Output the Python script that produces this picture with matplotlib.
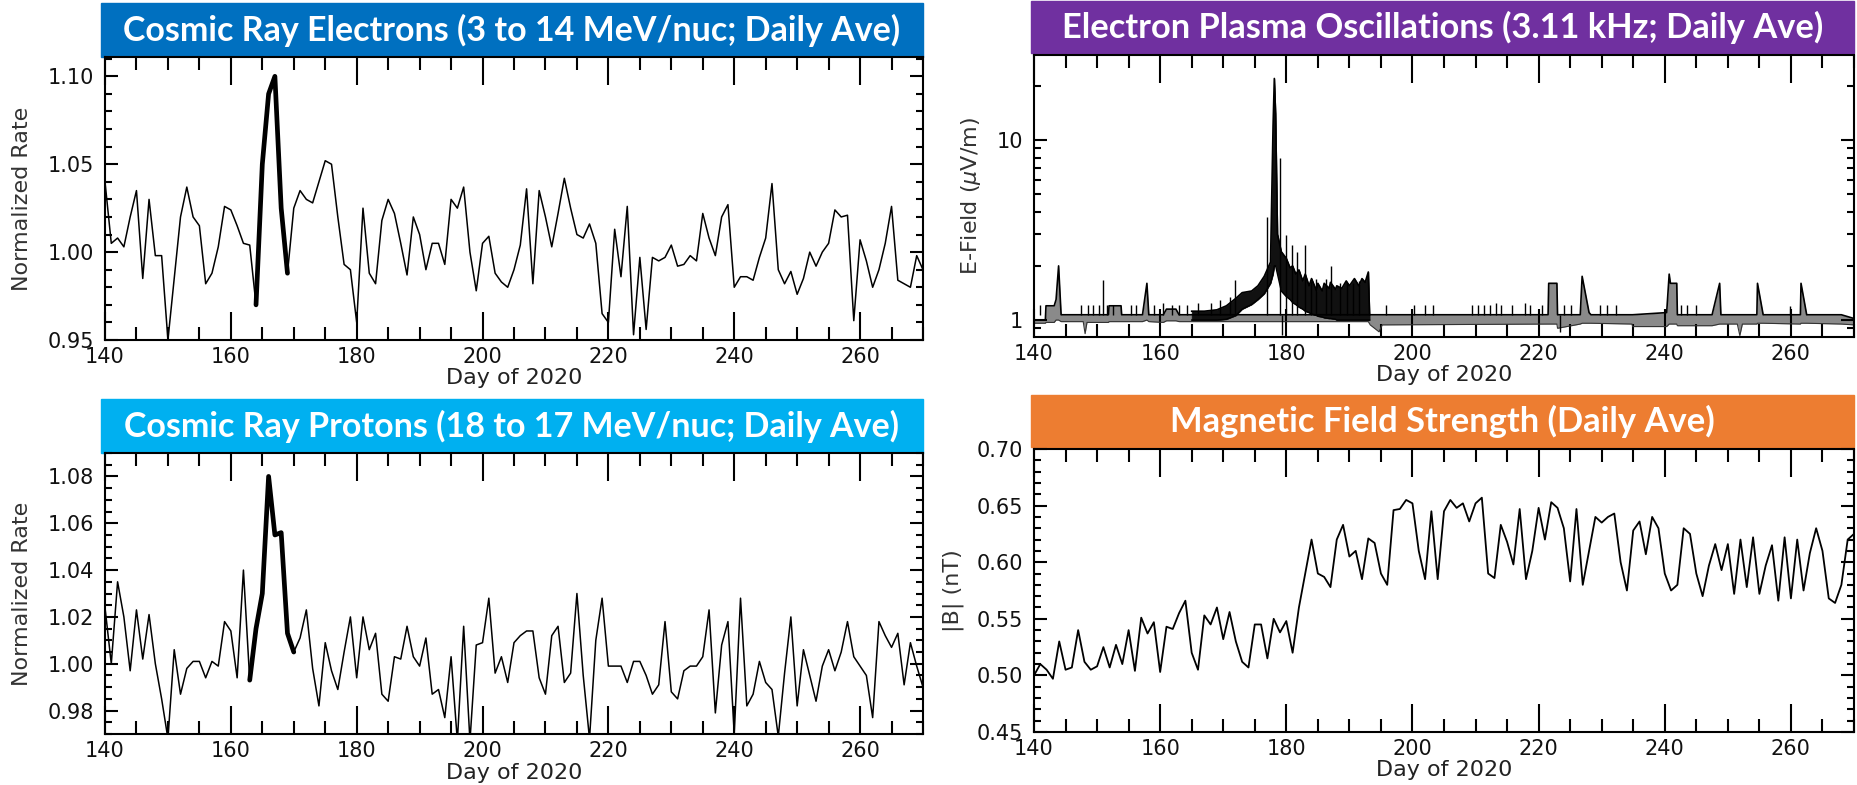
import numpy as np
import matplotlib
matplotlib.use("Agg")
import matplotlib.pyplot as plt
from matplotlib.patches import Rectangle
from matplotlib.ticker import MultipleLocator, FormatStrFormatter, FixedLocator, LogLocator, NullFormatter

W, H = 1857, 785

days = np.arange(140, 271)

electrons = [
    1.040, 1.005, 1.008, 1.003, 1.020, 1.035, 0.985, 1.030, 0.998, 0.998,
    0.950, 0.985, 1.020, 1.037, 1.020, 1.015, 0.982, 0.988, 1.003, 1.026,
    1.024, 1.015, 1.005, 1.004, 0.970, 1.050, 1.090, 1.100, 1.025, 0.988,
    1.025, 1.035, 1.030, 1.028, 1.040, 1.052, 1.050, 1.020, 0.993, 0.990,
    0.960, 1.025, 0.988, 0.982, 1.018, 1.030, 1.022, 1.005, 0.987, 1.020,
    1.010, 0.990, 1.005, 1.005, 0.993, 1.030, 1.025, 1.037, 1.000, 0.978,
    1.005, 1.009, 0.988, 0.983, 0.980, 0.990, 1.004, 1.036, 0.982, 1.035,
    1.020, 1.003, 1.022, 1.042, 1.025, 1.010, 1.008, 1.016, 1.005, 0.965,
    0.960, 1.013, 0.986, 1.026, 0.953, 0.997, 0.956, 0.997, 0.995, 0.997,
    1.004, 0.992, 0.993, 0.998, 0.995, 1.022, 1.008, 0.998, 1.020, 1.027,
    0.980, 0.986, 0.986, 0.984, 0.997, 1.008, 1.039, 0.990, 0.982, 0.989,
    0.976, 0.985, 1.000, 0.992, 1.000, 1.005, 1.024, 1.020, 1.021, 0.961,
    1.007, 0.995, 0.980, 0.990, 1.005, 1.026, 0.984, 0.982, 0.980, 0.998,
    0.990,
]
electron_event = (164, 169)

protons = [
    1.024, 1.000, 1.035, 1.020, 0.997, 1.023, 1.002, 1.021, 1.000, 0.985,
    0.968, 1.006, 0.987, 0.998, 1.001, 1.001, 0.994, 1.001, 0.999, 1.018,
    1.014, 0.994, 1.040, 0.993, 1.015, 1.030, 1.080, 1.055, 1.056, 1.013,
    1.005, 1.011, 1.023, 0.998, 0.982, 1.009, 0.997, 0.989, 1.005, 1.020,
    0.994, 1.020, 1.006, 1.013, 0.987, 0.984, 1.003, 1.002, 1.016, 1.003,
    0.999, 1.011, 0.987, 0.989, 0.977, 1.003, 0.967, 1.016, 0.967, 1.008,
    1.009, 1.028, 0.996, 1.003, 0.992, 1.009, 1.012, 1.014, 1.014, 0.994,
    0.987, 1.012, 1.016, 0.992, 0.996, 1.030, 0.995, 0.968, 1.010, 1.028,
    0.999, 0.999, 0.999, 0.992, 1.001, 1.001, 0.995, 0.987, 0.991, 1.018,
    0.988, 0.985, 0.997, 0.999, 0.999, 1.003, 1.023, 0.979, 1.008, 1.018,
    0.970, 1.028, 0.982, 0.987, 1.001, 0.992, 0.989, 0.969, 0.996, 1.020,
    0.982, 1.006, 0.995, 0.984, 0.999, 1.006, 0.997, 1.005, 1.018, 1.003,
    0.999, 0.995, 0.977, 1.018, 1.012, 1.007, 1.013, 0.991, 1.009, 0.999,
    0.990,
]
proton_event = (163, 170)

bfield = [
    0.500, 0.510, 0.505, 0.497, 0.530, 0.505, 0.507, 0.540, 0.512, 0.505,
    0.508, 0.525, 0.507, 0.527, 0.510, 0.540, 0.504, 0.551, 0.537, 0.547,
    0.503, 0.543, 0.541, 0.555, 0.566, 0.520, 0.505, 0.553, 0.545, 0.560,
    0.532, 0.556, 0.530, 0.512, 0.507, 0.545, 0.545, 0.515, 0.550, 0.538,
    0.548, 0.520, 0.560, 0.590, 0.620, 0.590, 0.587, 0.578, 0.620, 0.633,
    0.605, 0.610, 0.585, 0.621, 0.617, 0.590, 0.580, 0.646, 0.647, 0.655,
    0.652, 0.610, 0.585, 0.645, 0.585, 0.645, 0.655, 0.648, 0.652, 0.636,
    0.652, 0.657, 0.590, 0.586, 0.633, 0.618, 0.598, 0.647, 0.585, 0.610,
    0.648, 0.620, 0.653, 0.648, 0.630, 0.583, 0.647, 0.580, 0.610, 0.640,
    0.635, 0.640, 0.643, 0.600, 0.575, 0.628, 0.636, 0.607, 0.640, 0.630,
    0.590, 0.575, 0.580, 0.630, 0.625, 0.590, 0.570, 0.597, 0.616, 0.593,
    0.616, 0.572, 0.620, 0.578, 0.622, 0.572, 0.597, 0.615, 0.566, 0.622,
    0.568, 0.620, 0.575, 0.608, 0.630, 0.610, 0.568, 0.564, 0.580, 0.620,
    0.625,
]

# E-field: quiet-time envelope (day, upper, lower)
ef_env_day = [140.0, 141.8, 141.9, 143.2, 143.5, 143.9, 144.3, 147.8, 148.1, 148.4,
              151.8, 151.9, 153.8, 153.9, 157.2, 157.9, 158.2, 160.5, 161.0, 162.5,
              163.0, 165.0, 193.0, 193.3, 194.7, 195.2, 221.5, 221.6, 222.9, 223.0,
              226.6, 226.9, 228.0, 228.3, 234.8, 234.9, 240.3, 240.7, 240.9, 241.9,
              242.0, 247.5, 248.7, 248.9, 251.5, 251.9, 252.3, 254.6, 254.7, 255.6,
              261.5, 261.6, 262.5, 268.0, 270.0]
ef_env_hi = [1.00, 1.00, 1.20, 1.20, 1.30, 2.00, 1.07, 1.07, 1.07, 1.07,
             1.07, 1.20, 1.20, 1.07, 1.07, 1.60, 1.07, 1.07, 1.15, 1.15,
             1.07, 1.07, 1.07, 1.07, 1.07, 1.07, 1.07, 1.60, 1.60, 1.07,
             1.07, 1.75, 1.10, 1.07, 1.07, 1.07, 1.10, 1.80, 1.60, 1.60,
             1.07, 1.07, 1.60, 1.07, 1.07, 1.07, 1.07, 1.07, 1.60, 1.07,
             1.07, 1.60, 1.07, 1.07, 1.02]
ef_env_lo = [0.96, 0.96, 0.97, 0.97, 1.00, 1.00, 0.98, 0.98, 0.84, 0.97,
             0.97, 0.98, 0.98, 0.98, 0.98, 1.00, 0.98, 0.97, 0.99, 0.99,
             0.98, 0.98, 0.98, 0.94, 0.86, 0.94, 0.95, 0.95, 0.95, 0.90,
             0.95, 0.96, 0.96, 0.96, 0.95, 0.92, 0.92, 0.95, 0.95, 0.95,
             0.93, 0.93, 0.95, 0.95, 0.95, 0.82, 0.95, 0.95, 0.96, 0.96,
             0.95, 0.96, 0.96, 0.95, 0.94]

# E-field: disturbed interval (day, upper, lower)
ef_storm_day = [165.0, 167.0, 169.0, 170.5, 172.0, 173.0, 174.5, 175.5, 176.5, 177.5,
                177.9, 178.1, 178.3, 178.6, 179.2, 180.0, 180.6, 181.0, 181.5, 182.0,
                182.6, 183.0, 183.6, 184.0, 184.8, 185.0, 185.7, 186.0, 186.8, 187.0,
                187.8, 188.0, 188.8, 189.5, 190.0, 190.8, 191.5, 192.0, 192.5, 193.0,
                193.2]
ef_storm_hi = [1.12, 1.12, 1.14, 1.20, 1.32, 1.42, 1.45, 1.55, 1.75, 2.10,
               12.0, 22.0, 14.0, 3.00, 2.40, 2.20, 1.95, 2.00, 1.80, 1.90,
               1.65, 1.80, 1.55, 1.70, 1.45, 1.60, 1.45, 1.60, 1.50, 1.62,
               1.48, 1.55, 1.50, 1.65, 1.55, 1.70, 1.55, 1.70, 1.62, 1.85,
               1.07]
ef_storm_lo = [1.00, 1.00, 1.00, 1.01, 1.06, 1.15, 1.22, 1.30, 1.40, 1.60,
               1.80, 2.00, 2.00, 1.80, 1.45, 1.35, 1.30, 1.25, 1.22, 1.18,
               1.15, 1.12, 1.10, 1.08, 1.06, 1.05, 1.04, 1.03, 1.02, 1.02,
               1.01, 1.00, 1.00, 1.00, 1.00, 1.00, 1.00, 1.00, 1.00, 1.00,
               1.00]

# E-field: short bursts
ef_spike_day = [141.0, 147.5, 148.5, 149.3, 150.3, 151.0, 151.6, 152.5, 155.3, 156.2,
                159.0, 160.5, 161.8, 163.0, 164.2, 166.0, 168.0, 169.5, 171.0, 171.8,
                176.9, 179.0, 179.3, 179.9, 180.9, 181.7, 182.9, 183.9, 184.7, 186.3,
                187.1, 188.5, 189.6, 190.5, 191.5, 195.8, 200.2, 202.0, 203.2, 209.5,
                210.4, 211.3, 212.3, 213.3, 214.0, 215.8, 217.8, 218.6, 220.5, 223.4,
                224.0, 225.2, 229.8, 230.8, 232.3, 242.5, 243.5, 245.0, 259.8]
ef_spike_val = [1.22, 1.22, 1.22, 1.22, 1.22, 1.67, 1.22, 1.22, 1.22, 1.22,
                1.22, 1.25, 1.22, 1.22, 1.22, 1.25, 1.25, 1.30, 1.35, 1.67,
                3.75, 8.00, 0.83, 2.96, 2.60, 2.40, 2.60, 1.65, 1.70, 1.70,
                2.00, 1.60, 1.60, 1.60, 1.65, 1.22, 1.22, 1.22, 1.22, 1.22,
                1.22, 1.22, 1.22, 1.24, 1.22, 1.22, 1.25, 1.22, 1.22, 0.86,
                1.22, 1.22, 1.22, 1.22, 1.22, 1.22, 1.22, 1.22, 1.20]
ef_base = 1.07

fig = plt.figure(figsize=(W / 100, H / 100), dpi=100)
fig.patch.set_facecolor("white")


def px_axes(x0, y0, x1, y1):
    return fig.add_axes([x0 / W, 1 - y1 / H, (x1 - x0) / W, (y1 - y0) / H])


def banner(x0, y0, x1, y1, color, text, text_w):
    fig.add_artist(Rectangle((x0 / W, 1 - y1 / H), (x1 - x0) / W, (y1 - y0) / H,
                             transform=fig.transFigure, color=color, zorder=0))
    t = fig.text((x0 + x1) / 2 / W, 1 - (y0 + y1) / 2 / H, text, color="white",
                 fontsize=24, fontweight="bold", family="Lato",
                 ha="center", va="center")
    return t, text_w


def style(ax, ylabel, ylab_x, xlab_y, ymajor_len=9.5, yminor_len=5):
    ax.set_xlim(140, 270)
    ax.xaxis.set_major_locator(MultipleLocator(20))
    ax.xaxis.set_minor_locator(MultipleLocator(5))
    ax.tick_params(axis="x", which="major", direction="in", length=20, width=1.5,
                   top=True, bottom=True, pad=5, labelsize=15, labelcolor="#111111")
    ax.tick_params(axis="x", which="minor", direction="in", length=9.5, width=1.5,
                   top=True, bottom=True)
    ax.tick_params(axis="y", which="major", direction="in", length=ymajor_len, width=1.5,
                   left=True, right=True, pad=8, labelsize=15, labelcolor="#111111")
    ax.tick_params(axis="y", which="minor", direction="in", length=yminor_len, width=1.5,
                   left=True, right=True)
    for s in ax.spines.values():
        s.set_linewidth(1.5)
    ax.set_xlabel("Day of 2020", fontsize=16, color="#222222")
    ax.xaxis.set_label_coords(0.5, xlab_y)
    ax.xaxis.label.set_verticalalignment("center")
    ax.set_ylabel(ylabel, fontsize=16, color="#333333")
    ax.yaxis.set_label_coords(ylab_x, 0.5)
    ax.yaxis.label.set_verticalalignment("center")


titles = []

# Cosmic ray electrons
ax1 = px_axes(105, 57, 923, 340)
ax1.plot(days, electrons, color="black", lw=1.1)
m = (days >= electron_event[0]) & (days <= electron_event[1])
ax1.plot(days[m], np.array(electrons)[m], color="black", lw=3.4, solid_capstyle="round")
ax1.set_ylim(0.95, 1.111)
ax1.yaxis.set_major_locator(MultipleLocator(0.05))
ax1.yaxis.set_minor_locator(MultipleLocator(0.01))
ax1.yaxis.set_major_formatter(FormatStrFormatter("%.2f"))
style(ax1, "Normalized Rate", -0.1015, -0.134)
titles.append(banner(101, 3, 923, 57, "#0070C0",
                     "Cosmic Ray Electrons (3 to 14 MeV/nuc; Daily Ave)", 779))

# Electron plasma oscillations
ax2 = px_axes(1034, 55, 1854, 337)
ax2.set_yscale("log")
ax2.fill_between(ef_env_day, ef_env_lo, ef_env_hi, color="#8a8a8a", lw=0)
ax2.plot(ef_env_day, ef_env_hi, color="black", lw=1.2)
ax2.plot(ef_env_day, ef_env_lo, color="#333333", lw=0.8)
ax2.fill_between(ef_storm_day, ef_storm_lo, ef_storm_hi, color="#111111", lw=0.5,
                 edgecolor="#111111")
ax2.plot(ef_storm_day, ef_storm_hi, color="black", lw=1.2)
ax2.plot(ef_storm_day, ef_storm_lo, color="black", lw=1.0)
ax2.vlines(ef_spike_day, ef_base, ef_spike_val, color="black", lw=1.0)
ax2.set_ylim(0.805, 29.7)
ax2.yaxis.set_major_locator(FixedLocator([1, 10]))
ax2.yaxis.set_major_formatter(FormatStrFormatter("%d"))
ax2.yaxis.set_minor_locator(LogLocator(base=10, subs=np.arange(2, 10)))
ax2.yaxis.set_minor_formatter(NullFormatter())
style(ax2, r"E-Field ($\mu$V/m)", -0.077, -0.135)
titles.append(banner(1031, 1, 1854, 53, "#7030A0",
                     "Electron Plasma Oscillations (3.11 kHz; Daily Ave)", 764))

# Cosmic ray protons
ax3 = px_axes(105, 453, 923, 734)
ax3.plot(days, protons, color="black", lw=1.1)
m = (days >= proton_event[0]) & (days <= proton_event[1])
ax3.plot(days[m], np.array(protons)[m], color="black", lw=3.4, solid_capstyle="round")
ax3.set_ylim(0.97, 1.09)
ax3.yaxis.set_major_locator(MultipleLocator(0.02))
ax3.yaxis.set_minor_locator(MultipleLocator(0.005))
ax3.yaxis.set_major_formatter(FormatStrFormatter("%.2f"))
style(ax3, "Normalized Rate", -0.1015, -0.139)
titles.append(banner(101, 399, 923, 453, "#00B0F0",
                     "Cosmic Ray Protons (18 to 17 MeV/nuc; Daily Ave)", 774))

# Magnetic field strength
ax4 = px_axes(1034, 449, 1854, 732)
ax4.plot(days, bfield, color="black", lw=1.3)
ax4.set_ylim(0.45, 0.70)
ax4.yaxis.set_major_locator(MultipleLocator(0.05))
ax4.yaxis.set_minor_locator(MultipleLocator(0.01))
ax4.yaxis.set_major_formatter(FormatStrFormatter("%.2f"))
style(ax4, "|B| (nT)", -0.099, -0.134)
titles.append(banner(1031, 395, 1854, 447, "#ED7D31",
                     "Magnetic Field Strength (Daily Ave)", 546))

# shrink/grow banner titles to fill their bars
fig.canvas.draw()
renderer = fig.canvas.get_renderer()
for t, target in titles:
    w = t.get_window_extent(renderer).width
    t.set_fontsize(t.get_fontsize() * target / w)

fig.savefig("out.png", dpi=100, facecolor="white")
